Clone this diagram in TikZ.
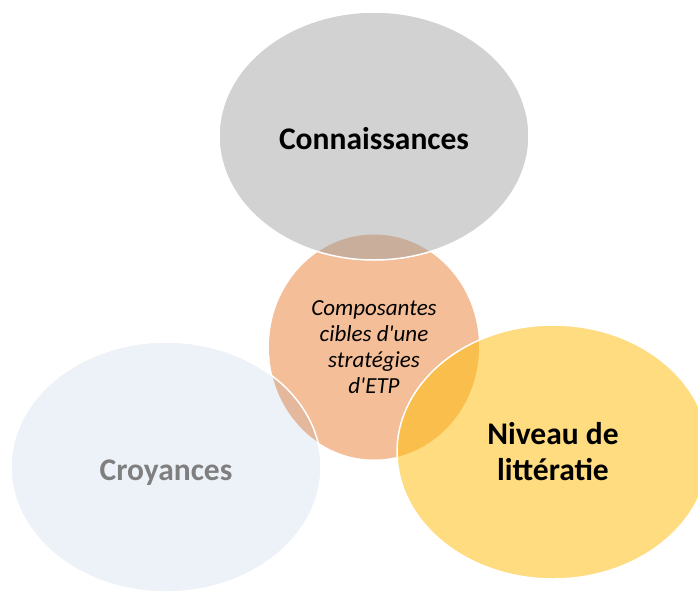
\documentclass[tikz,border=0pt]{standalone}
\usepackage{fontspec}
\setmainfont{Carlito}
\usetikzlibrary{shapes.geometric}
\definecolor{peach}{HTML}{F4BE98}
\definecolor{greyfill}{HTML}{D2D2D2}
\definecolor{bluefill}{HTML}{EDF2F9}
\definecolor{goldfill}{HTML}{FFDC80}
\definecolor{greypeach}{HTML}{C9AE9C}
\definecolor{bluepeach}{HTML}{E3B89D}
\definecolor{goldpeach}{HTML}{F9BE4B}
\definecolor{softtext}{HTML}{7F7F7F}
\tikzset{lobe/.style={ellipse, inner sep=0pt, align=center, draw=white, line width=1.5pt},
  bigtext/.style={font=\bfseries\fontsize{31.5}{36}\selectfont}}

\begin{document}
\begin{tikzpicture}[x=1pt,y=-1pt]
\useasboundingbox (0,0) rectangle (698,592);
\fill[white] (0,0) rectangle (698,592);
% plain fills
\fill[peach] (374,347) ellipse [x radius=105pt, y radius=112.5pt];
\fill[greyfill] (374,136) ellipse [x radius=155pt, y radius=124pt];
\fill[bluefill] (166,467) ellipse [x radius=155pt, y radius=125pt];
\fill[goldfill] (553,452) ellipse [x radius=156pt, y radius=127pt];
% overlaps with the middle circle
\begin{scope}
\clip (374,347) ellipse [x radius=105pt, y radius=112.5pt];
\fill[greypeach] (374,136) ellipse [x radius=155pt, y radius=124pt];
\fill[bluepeach] (166,467) ellipse [x radius=155pt, y radius=125pt];
\fill[goldpeach] (553,452) ellipse [x radius=156pt, y radius=127pt];
\end{scope}
\node[lobe, bigtext, text height=28pt, minimum width=310pt, minimum height=248pt] (know) at (374,136) {Connaissances};
\node[lobe, bigtext, text=softtext, text height=32pt, minimum width=310pt, minimum height=250pt] (belief) at (166,467) {Croyances};
\node[lobe, bigtext, minimum width=312pt, minimum height=254pt] (literacy) at (553,452) {Niveau de\\littératie};
\node[ellipse, inner sep=0pt, align=center, minimum width=210pt, minimum height=225pt,
  font=\itshape\fontsize{23}{26}\selectfont] (core) at (374,347)
  {Composantes\\cibles d\textquotesingle une\\stratégies\\d\textquotesingle ETP};
\end{tikzpicture}
\end{document}
